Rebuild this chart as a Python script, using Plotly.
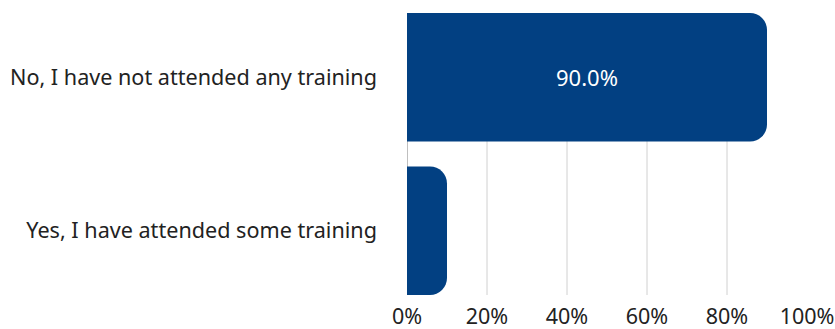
import plotly.graph_objects as go

# Survey responses (percent of respondents)
categories = ["Yes, I have attended some training", "No, I have not attended any training"]
values = [10.0, 90.0]
labels = ["", "90.0%"]
tick_vals = [0, 20, 40, 60, 80, 100]
tick_text = ["0%", "20%", "40%", "60%", "80%", "100%"]
grid_vals = [20, 40, 60, 80]

BAR_COLOR = "#024082"
FONT = "Noto Sans"
bar_width = 0.837

fig = go.Figure()
fig.add_trace(go.Bar(
    x=values,
    y=categories,
    orientation="h",
    width=bar_width,
    marker=dict(color=BAR_COLOR, line=dict(width=0)),
    text=labels,
    textposition="inside",
    insidetextanchor="middle",
    textfont=dict(family=FONT, size=22, color="white"),
    hoverinfo="skip",
))

shapes = [
    dict(type="line", xref="x", yref="paper", x0=g, x1=g, y0=0, y1=1,
         line=dict(color="#d0d0d0", width=1), layer="below")
    for g in grid_vals
]
shapes.append(dict(type="line", xref="x", yref="paper", x0=0, x1=0, y0=0, y1=1,
                   line=dict(color="#808080", width=1), layer="below"))

fig.update_layout(
    width=835,
    height=329,
    margin=dict(l=407, r=28, t=13, b=34),
    paper_bgcolor="white",
    plot_bgcolor="white",
    showlegend=False,
    barcornerradius=17,
    font=dict(family=FONT, size=22, color="#222222"),
    shapes=shapes,
    xaxis=dict(
        range=[0, 100],
        tickvals=tick_vals,
        ticktext=tick_text,
        showgrid=False,
        zeroline=False,
        showline=False,
        ticks="",
        automargin=False,
        ticklabeloverflow="allow",
        ticklabelstandoff=6,
        tickfont=dict(family=FONT, size=21.5, color="#222222"),
        fixedrange=True,
    ),
    yaxis=dict(
        range=[-bar_width / 2, 1 + bar_width / 2],
        showgrid=False,
        zeroline=False,
        showline=False,
        ticks="",
        automargin=False,
        ticklabelstandoff=29,
        tickfont=dict(family=FONT, size=21.6, color="#222222"),
        fixedrange=True,
    ),
)

fig.write_html("out.html")
